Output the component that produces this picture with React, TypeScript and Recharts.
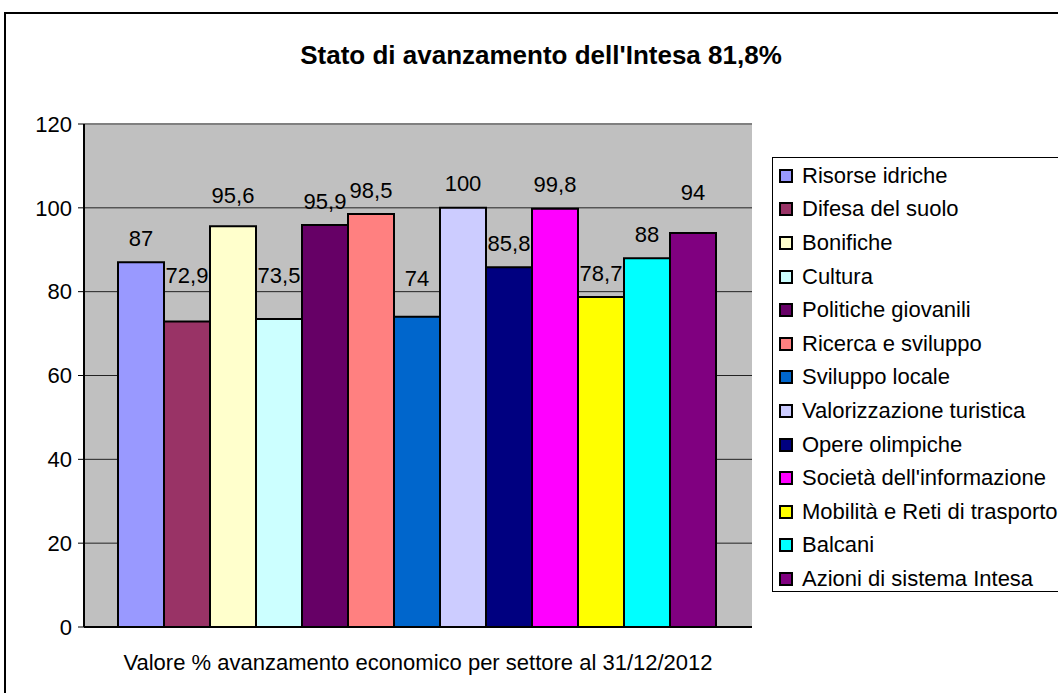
import { BarChart, Bar, XAxis, YAxis, CartesianGrid, ReferenceLine } from 'recharts';

const CATEGORY = 'Valore % avanzamento economico per settore al 31/12/2012';

const SECTORS = [
  'Risorse idriche',
  'Difesa del suolo',
  'Bonifiche',
  'Cultura',
  'Politiche giovanili',
  'Ricerca e sviluppo',
  'Sviluppo locale',
  'Valorizzazione turistica',
  'Opere olimpiche',
  "Società dell'informazione",
  'Mobilità e Reti di trasporto',
  'Balcani',
  'Azioni di sistema Intesa',
];

const VALUES = [87, 72.9, 95.6, 73.5, 95.9, 98.5, 74, 100, 85.8, 99.8, 78.7, 88, 94];

const COLORS = [
  '#9999FF', '#993366', '#FFFFCC', '#CCFFFF', '#660066', '#FF8080', '#0066CC',
  '#CCCCFF', '#000080', '#FF00FF', '#FFFF00', '#00FFFF', '#800080',
];

const Y_TICKS = [0, 20, 40, 60, 80, 100, 120];

// extra lift of some value labels (they were dragged up in the original)
const LABEL_LIFT = [0, 22, 7, 19, 0, 0, 14, 0, 0, 0, 0, 0, 16];

const FONT = '"Liberation Sans", Arial, sans-serif';

const data = [
  { name: CATEGORY, ...Object.fromEntries(SECTORS.map((s, i) => [s, VALUES[i]])) },
];

const fmt = (v: number) => String(v).replace('.', ',');

const makeLabel = (i: number) => (p: any) => {
  const { x, y, width, value } = p;
  return (
    <text
      x={Number(x) + Number(width) / 2}
      y={Number(y) - 24 - LABEL_LIFT[i]}
      textAnchor="middle"
      dominantBaseline="central"
      fontSize={22}
      fontFamily={FONT}
      fill="#000"
    >
      {fmt(value)}
    </text>
  );
};

export default function App() {
  return (
    <div
      style={{
        position: 'fixed',
        left: 0,
        top: 0,
        width: 1058,
        height: 693,
        overflow: 'hidden',
        background: '#fff',
        fontFamily: FONT,
      }}
    >
      <div
        style={{
          position: 'absolute',
          left: 4,
          top: 12,
          width: 1100,
          height: 720,
          borderLeft: '2px solid #000',
          borderTop: '2px solid #000',
        }}
      />
      <div
        style={{
          position: 'absolute',
          left: 0,
          width: 1082,
          top: 39,
          textAlign: 'center',
          fontWeight: 'bold',
          fontSize: 26,
          lineHeight: '32px',
        }}
      >
        Stato di avanzamento dell'Intesa 81,8%
      </div>

      <div style={{ position: 'absolute', left: 0, top: 0 }}>
        <BarChart
          width={1058}
          height={693}
          data={data}
          margin={{ top: 124, right: 306, bottom: 26, left: 24 }}
          barCategoryGap={34}
          barGap={0}
        >
          <CartesianGrid vertical={false} fill="#C0C0C0" stroke="#222" strokeWidth={1} />
          <ReferenceLine y={120} stroke="#808080" strokeWidth={2} />
          <XAxis
            dataKey="name"
            height={40}
            tickLine={false}
            tickSize={0}
            tickMargin={27}
            axisLine={{ stroke: '#000', strokeWidth: 2 }}
            tick={{ fill: '#000', fontSize: 22, fontFamily: FONT }}
          />
          <YAxis
            width={60}
            domain={[0, 120]}
            ticks={Y_TICKS}
            tickSize={6}
            tickMargin={6}
            axisLine={{ stroke: '#000', strokeWidth: 2 }}
            tickLine={{ stroke: '#000' }}
            tick={{ fill: '#000', fontSize: 22, fontFamily: FONT }}
          />
          <YAxis
            yAxisId="edge"
            orientation="right"
            width={0}
            tick={false}
            tickLine={false}
            axisLine={{ stroke: '#808080', strokeWidth: 2 }}
          />
          {SECTORS.map((s, i) => (
            <Bar
              key={s}
              dataKey={s}
              fill={COLORS[i]}
              stroke="#000"
              strokeWidth={2}
              isAnimationActive={false}
              label={makeLabel(i)}
            />
          ))}
        </BarChart>
      </div>

      <div
        style={{
          position: 'absolute',
          left: 772,
          top: 157,
          width: 320,
          height: 435,
          border: '1px solid #000',
          boxSizing: 'border-box',
          paddingTop: 1,
        }}
      >
        {SECTORS.map((s, i) => (
          <div
            key={s}
            style={{
              height: 33.6,
              display: 'flex',
              alignItems: 'center',
              fontSize: 22,
              color: '#000',
              whiteSpace: 'nowrap',
            }}
          >
            <span
              style={{
                display: 'inline-block',
                width: 10,
                height: 10,
                marginLeft: 6,
                marginRight: 9,
                background: COLORS[i],
                border: '2px solid #000',
              }}
            />
            {s}
          </div>
        ))}
      </div>
    </div>
  );
}
